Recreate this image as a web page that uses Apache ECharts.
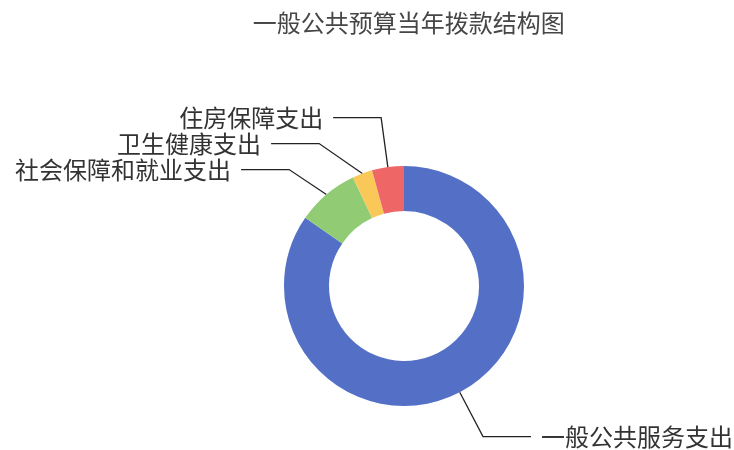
<!DOCTYPE html>
<html>
<head>
<meta charset="utf-8">
<script src="https://cdn.jsdelivr.net/npm/echarts@6/dist/echarts.min.js"></script>
<style>html,body{margin:0;padding:0;background:#fff}#c{width:734px;height:450px}</style>
</head>
<body>
<div id="c"></div>
<script>
const titleText = '一般公共预算当年拨款结构图';
const categories = ['一般公共服务支出', '社会保障和就业支出', '卫生健康支出', '住房保障支出'];
const values = [84.7, 8.4, 2.7, 4.3];
const colors = ['#5470c6', '#91cc75', '#fac858', '#ee6666'];

const chart = echarts.init(document.getElementById('c'));
chart.setOption({
  animation: false,
  color: colors,
  title: {
    text: titleText,
    left: '55%',
    textAlign: 'center',
    top: 6,
    textStyle: {
      fontFamily: 'Noto Sans CJK SC',
      fontSize: 24,
      fontWeight: 'normal',
      color: '#464646'
    }
  },
  series: [{
    type: 'pie',
    center: [404, 286],
    radius: [75, 120],
    startAngle: 90,
    clockwise: true,
    avoidLabelOverlap: true,
    itemStyle: { borderWidth: 0 },
    label: {
      show: true,
      position: 'outside',
      fontFamily: 'Noto Sans CJK SC',
      fontSize: 24,
      color: '#333',
      overflow: 'none',
      distanceToLabelLine: 10
    },
    labelLine: {
      show: true,
      length: 50,
      length2: 48,
      lineStyle: { color: '#222', width: 1.3 }
    },
    data: categories.map((n, i) => ({ name: n, value: values[i] }))
  }]
});
</script>
</body>
</html>
